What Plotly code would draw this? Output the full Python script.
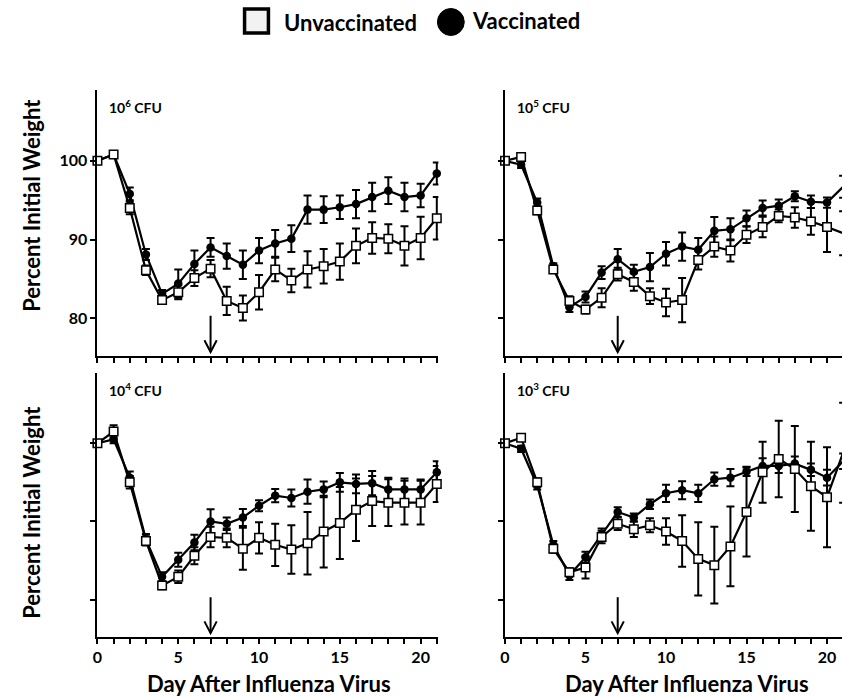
import plotly.graph_objects as go

DAYS = list(range(22))
ARROW_DAY = 7
PANEL_LABELS = ["10<sup>6</sup> CFU", "10<sup>5</sup> CFU", "10<sup>4</sup> CFU", "10<sup>3</sup> CFU"]
X_TICK_VALUES = list(range(22))
X_TICK_LABELS = ["0", "5", "10", "15", "20"]
Y_TICK_VALUES = [80, 90, 100]
Y_TICK_LABELS = ["80", "90", "100"]
SERIES_NAMES = ["Unvaccinated", "Vaccinated"]
Y_TITLE = "Percent Initial Weight"
X_TITLE = "Day After Influenza Virus"

# 10^6 CFU
VAC_1E6 = [100, 100.8, 95.8, 88.1, 83.1, 84.4, 86.9, 89.0, 87.9, 86.8, 88.6, 89.5, 90.1, 93.8, 93.8, 94.1, 94.5, 95.4, 96.2, 95.4, 95.6, 98.4]
VAC_1E6_ERR = [0.3, 0.3, 0.8, 0.7, 0.5, 1.8, 1.7, 1.2, 1.6, 1.8, 1.6, 1.7, 1.7, 1.8, 1.7, 1.5, 1.8, 1.8, 1.7, 1.8, 1.5, 1.4]
UNV_1E6 = [100, 100.8, 94.0, 86.1, 82.3, 83.3, 85.1, 86.3, 82.2, 81.3, 83.3, 86.2, 84.8, 86.2, 86.6, 87.2, 89.2, 90.2, 90.1, 89.2, 90.2, 92.7]
UNV_1E6_ERR = [0.3, 0.3, 0.8, 0.6, 0.5, 0.9, 1.0, 1.1, 1.8, 1.6, 2.2, 1.5, 1.5, 2.3, 2.2, 2.3, 2.2, 2.0, 1.85, 2.5, 2.7, 2.7]

# 10^5 CFU
VAC_1E5 = [100, 99.5, 94.7, 86.6, 81.4, 82.7, 85.8, 87.5, 85.9, 86.5, 88.2, 89.1, 88.7, 91.1, 91.3, 92.7, 94.0, 94.3, 95.5, 94.8, 94.7, 96.7]
VAC_1E5_ERR = [0.3, 0.4, 0.5, 0.4, 0.6, 0.7, 0.8, 1.3, 0.9, 1.8, 1.5, 1.8, 1.5, 1.75, 1.4, 1.0, 0.95, 0.8, 0.65, 0.8, 0.65, 1.4]
UNV_1E5 = [100, 100.5, 93.7, 86.2, 82.2, 81.1, 82.6, 85.6, 84.6, 82.8, 82.0, 82.3, 87.4, 89.1, 88.6, 90.6, 91.6, 93.0, 92.8, 92.3, 91.6, 90.8]
UNV_1E5_ERR = [0.3, 0.5, 0.5, 0.4, 0.6, 0.5, 1.2, 0.8, 1.1, 1.0, 1.75, 2.8, 1.2, 1.3, 1.4, 1.05, 1.3, 0.8, 1.3, 1.7, 3.2, 2.8]

# 10^4 CFU
VAC_1E4 = [100, 100.5, 95.6, 87.7, 82.9, 85.1, 87.3, 90.0, 89.7, 90.5, 92.0, 93.3, 93.0, 93.8, 94.1, 95.0, 94.8, 94.9, 94.1, 94.1, 94.1, 96.3]
VAC_1E4_ERR = [0.3, 0.5, 0.8, 0.7, 0.6, 0.9, 1.0, 1.55, 0.8, 1.1, 0.7, 0.85, 1.1, 1.55, 1.0, 1.2, 1.2, 1.55, 1.5, 1.4, 1.25, 1.4]
UNV_1E4 = [100, 101.5, 95.0, 87.5, 81.8, 82.9, 85.6, 88.0, 87.9, 86.5, 87.9, 87.0, 86.4, 87.2, 88.7, 89.8, 91.5, 92.6, 92.4, 92.4, 92.4, 94.8]
UNV_1E4_ERR = [0.3, 0.8, 0.8, 0.6, 0.5, 0.8, 1.1, 1.3, 1.2, 2.7, 2.0, 2.7, 3.1, 4.0, 4.6, 4.6, 4.0, 3.2, 3.0, 2.8, 2.8, 2.3]

# 10^3 CFU
VAC_1E3 = [100, 99.3, 94.6, 87.0, 83.1, 85.4, 88.3, 91.2, 90.5, 92.2, 93.6, 94.0, 93.6, 95.4, 95.6, 96.4, 97.1, 97.1, 97.4, 96.6, 95.6, 97.7]
VAC_1E3_ERR = [0.3, 0.4, 0.5, 0.5, 0.6, 0.7, 0.8, 0.6, 0.5, 0.6, 1.1, 1.15, 1.1, 0.85, 1.1, 0.6, 1.0, 0.9, 0.9, 0.8, 1.0, 1.0]
UNV_1E3 = [100, 100.7, 95.0, 86.5, 83.5, 84.1, 88.0, 89.7, 89.0, 89.5, 88.7, 87.5, 85.2, 84.4, 86.8, 91.2, 96.3, 98.0, 96.7, 94.5, 93.1, 98.8]
UNV_1E3_ERR = [0.3, 0.4, 0.5, 0.5, 0.5, 1.4, 0.8, 0.8, 1.0, 0.9, 1.7, 3.3, 4.7, 4.9, 5.1, 5.7, 3.9, 4.9, 5.5, 5.7, 6.4, 6.4]

PANELS = [
    (VAC_1E6, VAC_1E6_ERR, UNV_1E6, UNV_1E6_ERR),
    (VAC_1E5, VAC_1E5_ERR, UNV_1E5, UNV_1E5_ERR),
    (VAC_1E4, VAC_1E4_ERR, UNV_1E4, UNV_1E4_ERR),
    (VAC_1E3, VAC_1E3_ERR, UNV_1E3, UNV_1E3_ERR),
]

W, H = 842, 696
FONT = "Lato"
BLACK = "#000000"

# panel pixel boxes (left, right, top, bottom)
BOXES = [(93, 436, 90, 356), (503, 842, 90, 356), (93, 436, 373, 637), (503, 842, 373, 637)]
XRANGES = [[0, 21.1], [0, 20.93], [0, 21.1], [0, 20.93]]
YRANGE = [75.2, 109]
X_TITLE_CX = [266, 686]


def px(x):
    return x / W


def py(y):
    return 1 - y / H


fig = go.Figure()

for i, (vac, vac_err, unv, unv_err) in enumerate(PANELS):
    ax = "" if i == 0 else str(i + 1)
    fig.add_trace(go.Scatter(
        x=DAYS, y=vac, mode="lines+markers", xaxis="x" + ax, yaxis="y" + ax,
        line=dict(color=BLACK, width=2.2),
        marker=dict(symbol="circle", size=8.5, color=BLACK),
        error_y=dict(type="data", array=vac_err, color=BLACK, thickness=2, width=4),
        showlegend=False, cliponaxis=False, name=SERIES_NAMES[1]))
    fig.add_trace(go.Scatter(
        x=DAYS, y=unv, mode="lines+markers", xaxis="x" + ax, yaxis="y" + ax,
        line=dict(color=BLACK, width=2.2),
        marker=dict(symbol="square", size=8.5, color="white", line=dict(color=BLACK, width=1.5)),
        error_y=dict(type="data", array=unv_err, color=BLACK, thickness=2, width=4),
        showlegend=False, cliponaxis=False, name=SERIES_NAMES[0]))

layout = dict(
    width=W, height=H, margin=dict(l=0, r=0, t=0, b=0),
    paper_bgcolor="white", plot_bgcolor="white",
    font=dict(family=FONT, color=BLACK),
    showlegend=False,
)

annotations = []
shapes = []

# legend (drawn keys + labels)
shapes.append(dict(type="rect", xref="paper", yref="paper", x0=px(241), x1=px(265), y0=py(33), y1=py(9),
                   fillcolor="#f2f2f2", line=dict(color=BLACK, width=3.5)))
shapes.append(dict(type="circle", xref="paper", yref="paper", x0=px(435), x1=px(462), y0=py(35.5), y1=py(8.5),
                   fillcolor=BLACK, line=dict(color=BLACK, width=1)))
annotations.append(dict(xref="paper", yref="paper", x=px(279), y=py(22), text=SERIES_NAMES[0],
                        showarrow=False, xanchor="left", yanchor="middle",
                        font=dict(family=FONT, size=22, weight="bold", color=BLACK)))
annotations.append(dict(xref="paper", yref="paper", x=px(468), y=py(21), text=SERIES_NAMES[1],
                        showarrow=False, xanchor="left", yanchor="middle",
                        font=dict(family=FONT, size=22, weight="bold", color=BLACK)))

for i, (l, r, t, b) in enumerate(BOXES):
    ax = "" if i == 0 else str(i + 1)
    bottom = i >= 2
    left = i % 2 == 0
    layout["xaxis" + ax] = dict(
        domain=[px(l), px(r)], range=XRANGES[i], anchor="y" + ax,
        showgrid=False, zeroline=False, showline=True, linecolor=BLACK, linewidth=2,
        ticks="outside", ticklen=5, tickwidth=1.5, tickcolor=BLACK,
        tickvals=X_TICK_VALUES,
        ticktext=[(str(d) if (bottom and str(d) in X_TICK_LABELS) else "") for d in X_TICK_VALUES],
        tickfont=dict(family=FONT, size=16, weight="bold", color=BLACK),
    )
    layout["yaxis" + ax] = dict(
        domain=[py(b), py(t)], range=YRANGE, anchor="x" + ax,
        showgrid=False, zeroline=False, showline=True, linecolor=BLACK, linewidth=2,
        ticks="outside", ticklen=5, tickwidth=1.5, tickcolor=BLACK,
        tickvals=Y_TICK_VALUES,
        ticktext=(Y_TICK_LABELS if i == 0 else ["", "", ""]),
        tickfont=dict(family=FONT, size=16, weight="bold", color=BLACK),
    )
    # panel label
    annotations.append(dict(xref="x" + ax, yref="y" + ax, x=0.6, y=106.9, text=PANEL_LABELS[i],
                            showarrow=False, xanchor="left", yanchor="middle",
                            font=dict(family=FONT, size=14, weight="bold", color=BLACK)))
    # arrow at challenge day
    y_top, y_tip = 80.3, 75.7
    shapes.append(dict(type="line", xref="x" + ax, yref="y" + ax, x0=ARROW_DAY, x1=ARROW_DAY,
                       y0=y_top, y1=y_tip, line=dict(color=BLACK, width=2)))
    shapes.append(dict(type="path", xref="x" + ax, yref="y" + ax,
                       path=f"M {ARROW_DAY - 0.38},{y_tip + 1.5} L {ARROW_DAY},{y_tip} L {ARROW_DAY + 0.38},{y_tip + 1.5}",
                       line=dict(color=BLACK, width=2)))
    if left:
        annotations.append(dict(xref="paper", yref="paper", x=px(26), y=py(205 if i == 0 else 512),
                                text=Y_TITLE, textangle=-90, showarrow=False,
                                xanchor="center", yanchor="middle",
                                font=dict(family=FONT, size=22, weight="bold", color=BLACK)))
    if bottom:
        annotations.append(dict(xref="paper", yref="paper", x=px(X_TITLE_CX[0 if left else 1]),
                                y=py(683), text=X_TITLE, showarrow=False,
                                xanchor="center", yanchor="middle",
                                font=dict(family=FONT, size=22, weight="bold", color=BLACK)))

layout["annotations"] = annotations
layout["shapes"] = shapes
fig.update_layout(**layout)
fig.write_html("out.html", config={"displayModeBar": False},
               post_script="document.body.style.margin='0px';")
